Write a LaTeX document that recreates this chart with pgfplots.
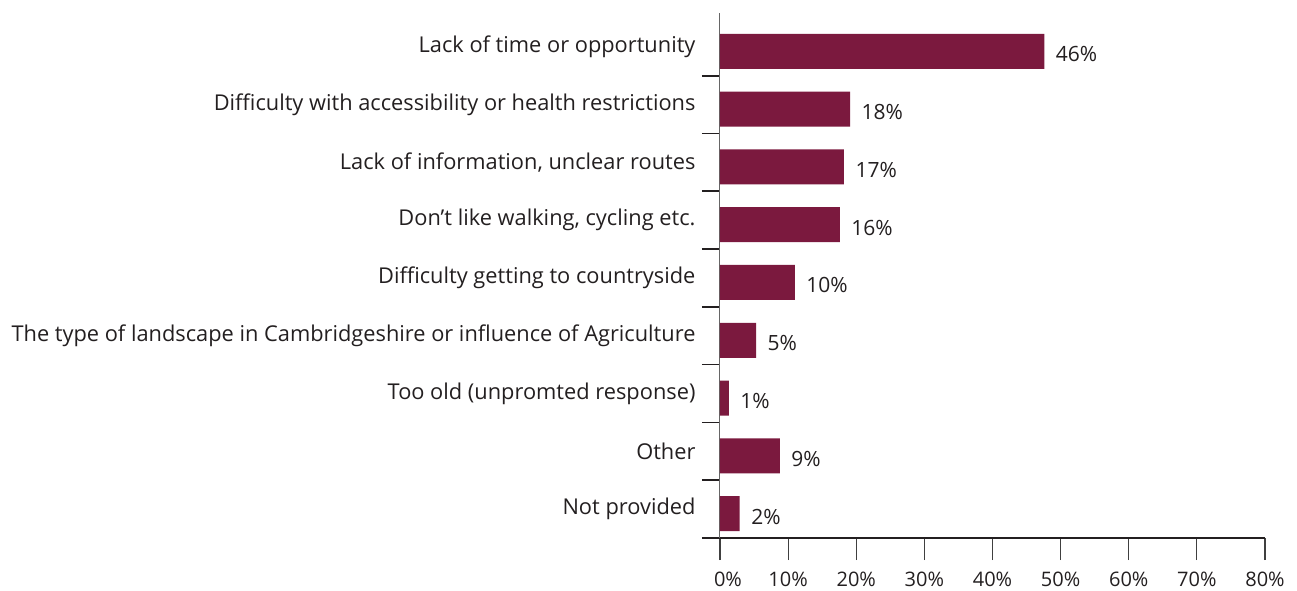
\documentclass[border=0pt]{standalone}
\usepackage{pgfplots}
\pgfplotsset{compat=1.18}
\usepackage{pgfplotstable}
\usepackage{fontspec}
\setmainfont{Open Sans}
\definecolor{barc}{RGB}{123,25,62}
\definecolor{txt}{RGB}{35,31,32}
\pgfplotstableread{
y x lab
0 47.6 46
1 19.1 18
2 18.2 17
3 17.6 16
4 11.0 10
5 5.3 5
6 1.3 1
7 8.8 9
8 2.9 2
}\datatable
\begin{document}
\begin{tikzpicture}
\begin{axis}[
  scale only axis,
  width=545pt, height=525pt,
  xmin=0, xmax=80,
  ymin=-0.585, ymax=8.5,
  y dir=reverse,
  xbar, bar width=35pt, bar shift=-4.5pt,
  axis x line*=bottom,
  axis y line*=left,
  x axis line style={line width=1.6pt, color=txt, shorten <=-18pt},
  y axis line style={line width=1pt, color=black!60},
  xtick={0,10,...,80},
  xticklabel={\ifdim\tick pt<1pt\hspace*{16pt}\fi\pgfmathprintnumber{\tick}\%},
  x tick style={line width=1.2pt, color=black!75},
  x tick label style={font=\fontsize{20}{22}\selectfont, color=txt, yshift=-8pt},
  tick align=outside,
  major tick length=22pt,
  minor tick length=18pt,
  ytick={0,...,8},
  yticklabels={Lack of time or opportunity,Difficulty with accessibility or health restrictions,{Lack of information, unclear routes},{Don’t like walking, cycling etc.},Difficulty getting to countryside,The type of landscape in Cambridgeshire or influence of Agriculture,Too old (unpromted response),Other,Not provided},
  y tick label style={font=\fontsize{21.8}{24}\selectfont, color=txt, xshift=1pt},
  y tick style={draw=none},
  minor ytick={0.5,1.5,...,7.5},
  minor y tick style={draw=txt, line width=1.6pt},
  /pgf/number format/assume math mode=true,
  point meta=explicit symbolic,
  nodes near coords={\pgfplotspointmeta\%},
  nodes near coords style={font=\fontsize{21}{22}\selectfont, color=txt, anchor=west, xshift=8pt, yshift=-3pt},
  clip=false,
]
\addplot[fill=barc, draw=none] table[x=x, y=y, meta=lab] {\datatable};
\coordinate (O) at (axis cs:0,8.5);
\end{axis}
\path (O) ++(-720pt,-52pt) rectangle ++(1297pt,590pt);
\end{tikzpicture}
\end{document}
